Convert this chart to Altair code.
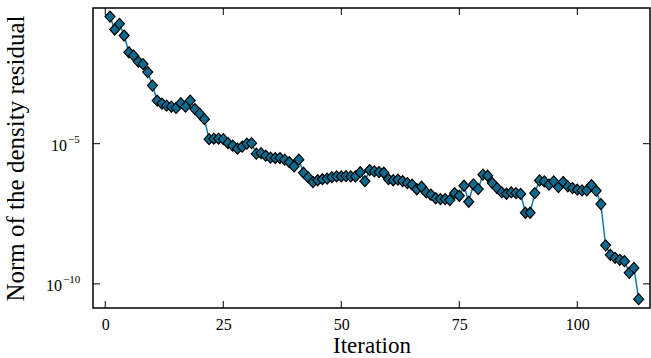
import altair as alt
import pandas as pd

iterations = list(range(1, 114))
residuals = [
    3.4e-1, 1.18e-1, 1.88e-1, 7.2e-2, 1.82e-2, 1.39e-2, 8.5e-3, 6.9e-3, 3.58e-3, 1.18e-3,
    3.44e-4, 2.69e-4, 2.28e-4, 2.09e-4, 1.88e-4, 2.79e-4, 2.09e-4, 3.44e-4, 1.71e-4, 1.18e-4,
    7.5e-5, 1.45e-5, 1.51e-5, 1.51e-5, 1.45e-5, 1.04e-5, 8.49e-6, 6.62e-6, 7.82e-6, 1.0e-5,
    1.04e-5, 4.40e-6, 4.58e-6, 3.72e-6, 3.16e-6, 3.08e-6, 3.08e-6, 2.69e-6, 2.18e-6, 1.55e-6,
    2.69e-6, 9.20e-7, 6.25e-7, 4.29e-7, 4.97e-7, 5.40e-7, 5.71e-7, 6.37e-7, 6.79e-7, 6.79e-7,
    7.01e-7, 6.79e-7, 6.79e-7, 9.59e-7, 4.58e-7, 1.15e-6, 1.03e-6, 9.75e-7, 9.20e-7, 5.40e-7,
    4.97e-7, 5.18e-7, 4.58e-7, 3.94e-7, 3.44e-7, 2.37e-7, 2.91e-7, 1.82e-7, 1.51e-7, 1.13e-7,
    1.06e-7, 1.06e-7, 9.75e-8, 1.71e-7, 1.39e-7, 3.16e-7, 8.49e-8, 3.52e-7, 2.41e-7, 7.82e-7,
    7.19e-7, 3.94e-7, 2.62e-7, 1.82e-7, 1.64e-7, 1.82e-7, 1.73e-7, 1.61e-7, 3.44e-8, 3.44e-8,
    1.73e-7, 4.89e-7, 4.51e-7, 3.44e-7, 4.51e-7, 2.84e-7, 4.29e-7, 2.99e-7, 2.62e-7, 2.28e-7,
    2.15e-7, 2.15e-7, 3.30e-7, 2.09e-7, 7.01e-8, 2.37e-9, 1.09e-9, 8.49e-10, 7.19e-10, 6.47e-10,
    2.47e-10, 3.72e-10, 2.84e-11,
]
x_ticks = [0, 25, 50, 75, 100]
y_ticks = [1e-5, 1e-10]
y_tick_exponents = ["−5", "−10"]

W, H = 557, 300
FONT = "Liberation Serif"
FILL = "#0c6b8e"
LINE = "#137aa5"

df = pd.DataFrame({"iteration": iterations, "residual": residuals})
xt = pd.DataFrame({"iteration": x_ticks})
yt = pd.DataFrame({"residual": y_ticks, "exp": y_tick_exponents})

xscale = alt.Scale(domain=[-2.6, 115.4], nice=False, zero=False)
yscale = alt.Scale(type="log", domain=[1.38e-11, 0.69], nice=False)

xaxis = alt.Axis(values=x_ticks, ticks=False, domain=False, grid=False,
                 labelPadding=8, labelFontSize=16, labelFont=FONT, labelColor="black",
                 title="Iteration", titleFont=FONT, titleFontSize=23,
                 titleFontWeight="normal", titleColor="black",
                 titleBaseline="alphabetic", titleY=44)
yaxis = alt.Axis(values=y_ticks, ticks=False, domain=False, grid=False, labels=False,
                 title="Norm of the density residual", titleFont=FONT, titleFontSize=25,
                 titleFontWeight="normal", titleColor="black",
                 titleBaseline="alphabetic", titleX=-70)

X = alt.X("iteration:Q", scale=xscale, axis=xaxis, title="Iteration")
Y = alt.Y("residual:Q", scale=yscale, axis=yaxis, title="Norm of the density residual")

base = alt.Chart(df)

line = base.mark_line(color=LINE, strokeWidth=1.5).encode(x=X, y=Y)

points = base.mark_point(
    shape="M0,-1.1L1,0L0,1.1L-1,0Z", filled=True, fill=FILL, stroke="black",
    strokeWidth=1.2, size=100, opacity=1,
).encode(x=X, y=Y)

tick_style = dict(color="black", strokeWidth=1)
bottom_ticks = alt.Chart(xt).mark_rule(**tick_style).encode(
    x=X, y=alt.value(H), y2=alt.value(H - 7))
top_ticks = alt.Chart(xt).mark_rule(**tick_style).encode(
    x=X, y=alt.value(0), y2=alt.value(7))
left_ticks = alt.Chart(yt).mark_rule(**tick_style).encode(
    y=Y, x=alt.value(0), x2=alt.value(7))
right_ticks = alt.Chart(yt).mark_rule(**tick_style).encode(
    y=Y, x=alt.value(W), x2=alt.value(W - 7))

# y tick labels as "10" with a raised exponent
label_layers = []
for exp_text, base_right in [("−5", -26), ("−10", -31)]:
    sel = alt.Chart(yt).transform_filter(alt.datum.exp == exp_text)
    label_layers.append(
        sel.mark_text(align="right", baseline="middle", font=FONT, fontSize=16,
                      color="black", dy=2).encode(
            y=Y, x=alt.value(base_right), text=alt.value("10")))
    label_layers.append(
        sel.mark_text(align="left", baseline="middle", font=FONT, fontSize=11,
                      color="black", dy=-4).encode(
            y=Y, x=alt.value(base_right + 1), text="exp:N"))

chart = alt.layer(line, points, bottom_ticks, top_ticks, left_ticks, right_ticks,
                  *label_layers).properties(
    width=W, height=H,
    autosize=alt.AutoSizeParams(type="none"),
    padding={"left": 93, "top": 8, "right": 1, "bottom": 50},
    background="white",
).configure_view(stroke="black", strokeWidth=1.5)

chart.save("out.html", embed_options={"renderer": "svg", "actions": False})
